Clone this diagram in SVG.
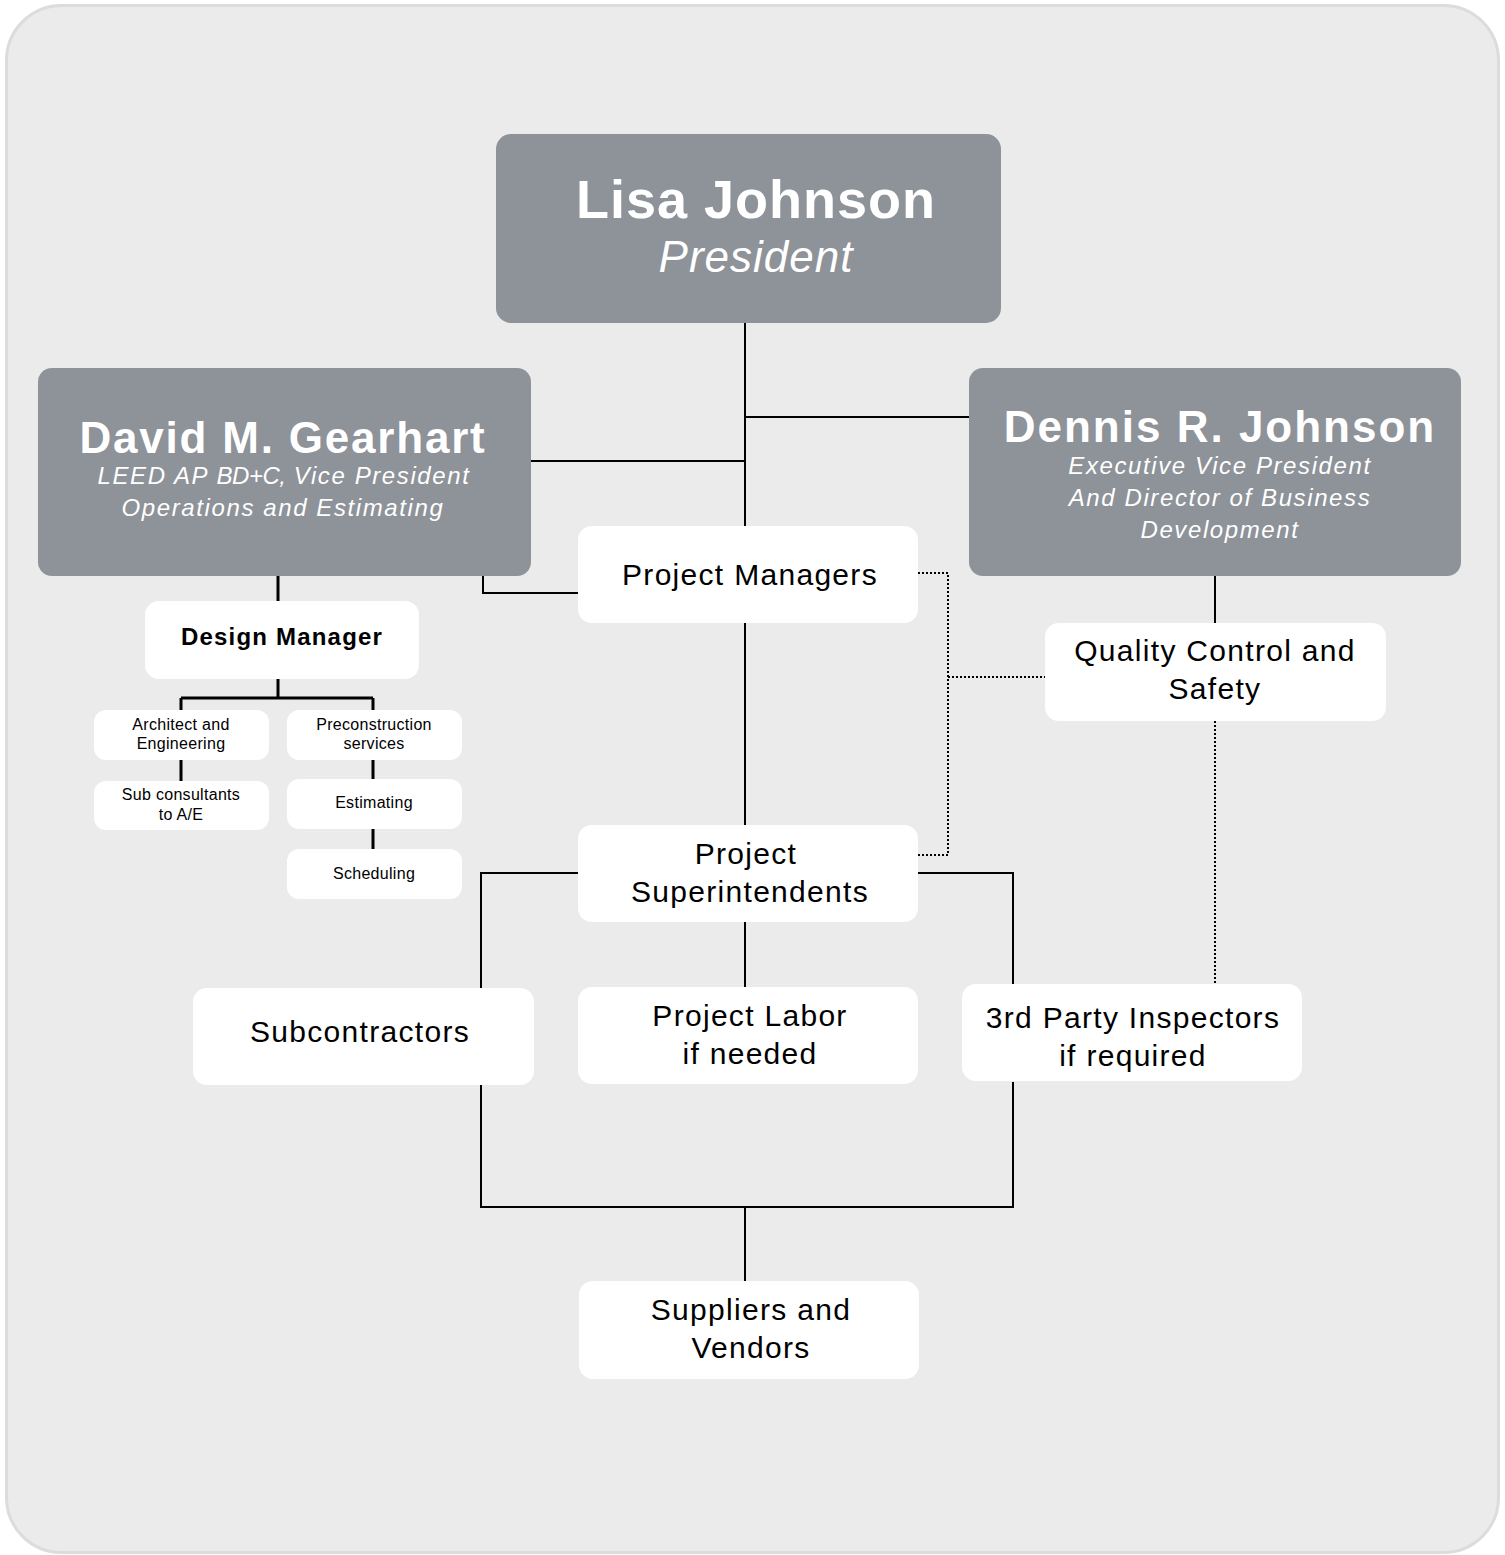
<svg xmlns="http://www.w3.org/2000/svg" width="1505" height="1555" viewBox="0 0 1505 1555">
<style>
.bg{fill:#ebebeb;stroke:#dadddc;stroke-width:3}
.exec{fill:#8e9299}
.box{fill:#ffffff}
.name{font-family:"Liberation Sans",Arial,sans-serif;font-weight:bold;fill:#ffffff;text-anchor:middle}
.title{font-family:"Liberation Sans",Arial,sans-serif;font-style:italic;fill:#ffffff;text-anchor:middle;font-size:24px;letter-spacing:1.6px}
.lbl{font-family:"Liberation Sans",Arial,sans-serif;fill:#000;text-anchor:middle;font-size:30px;letter-spacing:1.3px}
.sm{font-family:"Liberation Sans",Arial,sans-serif;fill:#000;text-anchor:middle;font-size:16px;letter-spacing:0.3px}
.ln{fill:none;stroke:#000;stroke-width:2}
.ln3{fill:none;stroke:#000;stroke-width:3}
.dot{fill:none;stroke:#000;stroke-width:2;stroke-dasharray:2 2}
</style>
<rect class="bg" x="6.5" y="5.5" width="1492" height="1547" rx="55"/>
<g id="connectors">
<path class="ln" d="M745 323V526M745 417H969M531 461H745M483 576V593H578M745 623V825M1215 576V623M578 873H481V988M918 873H1013V984M745 922V987M481 1085V1207H1013V1082M745 1207V1281"/>
<path class="ln3" d="M278 576V601M278 679V698M181 698H373M181 698V710M373 698V710M181 760V781M373 760V779M373 829V849"/>
<path class="dot" d="M918 573H948V855H918M948 677H1045M1215 721V984"/>
</g>
<g id="lisa">
<rect class="exec" x="496" y="134" width="505" height="189" rx="15"/>
<text class="name" x="756" y="218" font-size="54" letter-spacing="1">Lisa Johnson</text>
<text class="title" x="756" y="272" font-size="44" letter-spacing="1" style="font-size:44px;letter-spacing:1px">President</text>
</g>
<g id="david">
<rect class="exec" x="38" y="368" width="493" height="208" rx="14"/>
<text class="name" x="283" y="453" font-size="44" letter-spacing="1.8">David M. Gearhart</text>
<text class="title" x="284" y="484">LEED AP <tspan letter-spacing="-0.5">BD+C,</tspan> Vice President</text>
<text class="title" x="283" y="516">Operations and Estimating</text>
</g>
<g id="dennis">
<rect class="exec" x="969" y="368" width="492" height="208" rx="14"/>
<text class="name" x="1220" y="442" font-size="44" letter-spacing="2">Dennis R. Johnson</text>
<text class="title" x="1220" y="474">Executive Vice President</text>
<text class="title" x="1220" y="506">And Director of Business</text>
<text class="title" x="1220" y="538">Development</text>
</g>
<g id="project-managers">
<rect class="box" x="578" y="526" width="340" height="97" rx="14"/>
<text class="lbl" x="750" y="585">Project Managers</text>
</g>
<g id="design-manager">
<rect class="box" x="145" y="601" width="274" height="78" rx="14"/>
<text class="lbl" x="282" y="645" style="font-weight:bold;font-size:24px;letter-spacing:1.2px">Design Manager</text>
</g>
<g id="architect">
<rect class="box" x="94" y="710" width="175" height="50" rx="12"/>
<text class="sm" x="181" y="730">Architect and</text>
<text class="sm" x="181" y="749">Engineering</text>
</g>
<g id="precon">
<rect class="box" x="287" y="710" width="175" height="50" rx="12"/>
<text class="sm" x="374" y="730">Preconstruction</text>
<text class="sm" x="374" y="749">services</text>
</g>
<g id="subconsultants">
<rect class="box" x="94" y="781" width="175" height="49" rx="12"/>
<text class="sm" x="181" y="800">Sub consultants</text>
<text class="sm" x="181" y="820">to A/E</text>
</g>
<g id="estimating">
<rect class="box" x="287" y="779" width="175" height="50" rx="12"/>
<text class="sm" x="374" y="808">Estimating</text>
</g>
<g id="scheduling">
<rect class="box" x="287" y="849" width="175" height="50" rx="12"/>
<text class="sm" x="374" y="879">Scheduling</text>
</g>
<g id="quality">
<rect class="box" x="1045" y="623" width="341" height="98" rx="14"/>
<text class="lbl" x="1215" y="661">Quality Control and</text>
<text class="lbl" x="1215" y="699">Safety</text>
</g>
<g id="superintendents">
<rect class="box" x="578" y="825" width="340" height="97" rx="14"/>
<text class="lbl" x="746" y="864">Project</text>
<text class="lbl" x="750" y="902">Superintendents</text>
</g>
<g id="subcontractors">
<rect class="box" x="193" y="988" width="341" height="97" rx="14"/>
<text class="lbl" x="360" y="1042">Subcontractors</text>
</g>
<g id="labor">
<rect class="box" x="578" y="987" width="340" height="97" rx="14"/>
<text class="lbl" x="750" y="1026">Project Labor</text>
<text class="lbl" x="750" y="1064">if needed</text>
</g>
<g id="inspectors">
<rect class="box" x="962" y="984" width="340" height="97" rx="14"/>
<text class="lbl" x="1133" y="1028">3rd Party Inspectors</text>
<text class="lbl" x="1133" y="1066">if required</text>
</g>
<g id="suppliers">
<rect class="box" x="579" y="1281" width="340" height="98" rx="14"/>
<text class="lbl" x="751" y="1320">Suppliers and</text>
<text class="lbl" x="751" y="1358">Vendors</text>
</g>
</svg>
